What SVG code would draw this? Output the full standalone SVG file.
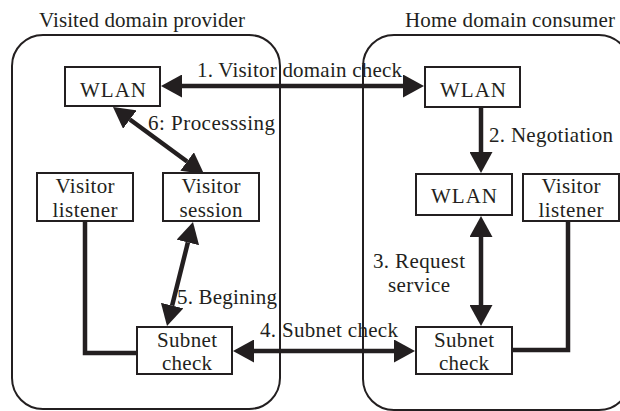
<svg xmlns="http://www.w3.org/2000/svg" width="620" height="411" viewBox="0 0 620 411">
<style>
text{font-family:'Liberation Serif','Times New Roman',Times,serif;font-size:21px;fill:#231f20}
.box{fill:#fff;stroke:#231f20;stroke-width:2}
.cont{fill:none;stroke:#231f20;stroke-width:2}
.ln{fill:none;stroke:#231f20;stroke-width:4.5}
.ar{marker-end:url(#ah)}
.bi{marker-start:url(#ah);marker-end:url(#ah)}
</style>
<defs>
<marker id="ah" viewBox="0 0 21 23" refX="0" refY="11.5" markerWidth="21" markerHeight="23" markerUnits="userSpaceOnUse" orient="auto-start-reverse">
<path d="M0,0 L21,11.5 L0,23 z" fill="#231f20"/>
</marker>
</defs>
<rect width="620" height="411" fill="#fff"/>
<g id="visited-domain">
<rect class="cont" x="12" y="35" width="268" height="374" rx="31"/>
<text x="39" y="27" textLength="206" lengthAdjust="spacing">Visited domain provider</text>
</g>
<g id="home-domain">
<rect class="cont" x="363" y="35" width="267" height="375" rx="31"/>
<text x="405" y="27" textLength="210" lengthAdjust="spacing">Home domain consumer</text>
</g>
<g id="connectors">
<line class="ln bi" x1="182" y1="86" x2="403" y2="86"/>
<line class="ln ar" x1="481" y1="107" x2="481" y2="152"/>
<line class="ln bi" x1="481" y1="237" x2="481" y2="305"/>
<line class="ln bi" x1="254" y1="351" x2="394" y2="351"/>
<line class="ln bi" x1="187.9" y1="242.4" x2="172.1" y2="305.6"/>
<line class="ln bi" x1="129.9" y1="119.5" x2="187.1" y2="161.5"/>
<polyline class="ln" points="85,221 85,353 137,353"/>
<polyline class="ln" points="568,221 568,350 512,350"/>
<text x="197" y="77" textLength="205" lengthAdjust="spacing">1. Visitor domain check</text>
<text x="489" y="142" textLength="124" lengthAdjust="spacing">2. Negotiation</text>
<text x="373" y="268" textLength="92" lengthAdjust="spacing">3. Request</text>
<text x="388" y="292" textLength="62" lengthAdjust="spacing">service</text>
<text x="260" y="337" textLength="138" lengthAdjust="spacing">4. Subnet check</text>
<text x="177" y="304" textLength="100" lengthAdjust="spacing">5. Begining</text>
<text x="148" y="130" textLength="127" lengthAdjust="spacing">6: Processsing</text>
</g>
<g id="wlan-visited">
<rect class="box" x="65" y="67" width="95" height="39"/>
<text x="80" y="97" textLength="66" lengthAdjust="spacing">WLAN</text>
</g>
<g id="wlan-home-top">
<rect class="box" x="425" y="67" width="95" height="40"/>
<text x="440" y="97" textLength="66" lengthAdjust="spacing">WLAN</text>
</g>
<g id="wlan-home-mid">
<rect class="box" x="416" y="174" width="96" height="41"/>
<text x="431" y="203" textLength="66" lengthAdjust="spacing">WLAN</text>
</g>
<g id="visitor-listener-visited">
<rect class="box" x="37" y="173" width="96" height="48"/>
<text x="55.5" y="193" textLength="59" lengthAdjust="spacing">Visitor</text>
<text x="52.5" y="217" textLength="65" lengthAdjust="spacing">listener</text>
</g>
<g id="visitor-session">
<rect class="box" x="163" y="173" width="96" height="48"/>
<text x="181.5" y="193" textLength="59" lengthAdjust="spacing">Visitor</text>
<text x="179.5" y="217" textLength="63" lengthAdjust="spacing">session</text>
</g>
<g id="visitor-listener-home">
<rect class="box" x="523" y="174" width="96" height="47"/>
<text x="541.5" y="193" textLength="59" lengthAdjust="spacing">Visitor</text>
<text x="538.5" y="217" textLength="65" lengthAdjust="spacing">listener</text>
</g>
<g id="subnet-check-visited">
<rect class="box" x="137" y="327" width="95" height="47"/>
<text x="157" y="347" textLength="60" lengthAdjust="spacing">Subnet</text>
<text x="162" y="370" textLength="50" lengthAdjust="spacing">check</text>
</g>
<g id="subnet-check-home">
<rect class="box" x="416" y="327" width="96" height="47"/>
<text x="434" y="347" textLength="60" lengthAdjust="spacing">Subnet</text>
<text x="439" y="370" textLength="50" lengthAdjust="spacing">check</text>
</g>
</svg>
